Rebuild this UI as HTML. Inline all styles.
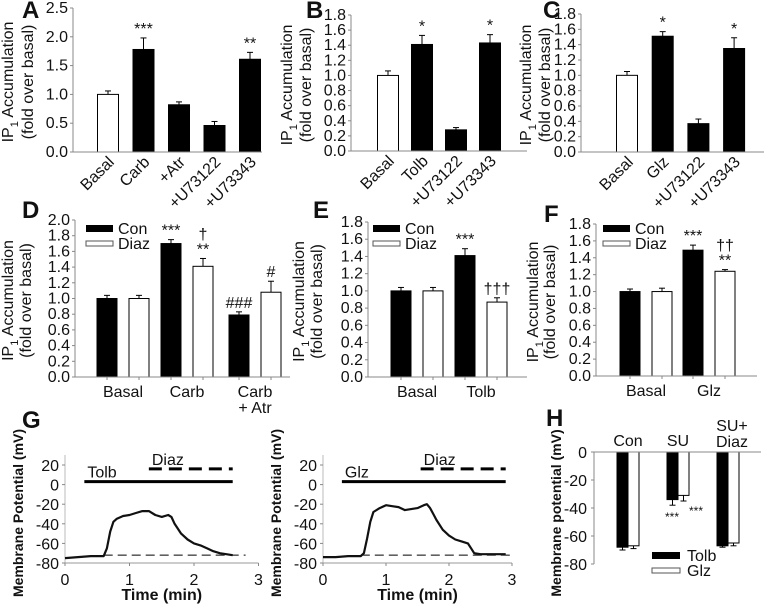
<!DOCTYPE html>
<html><head><meta charset="utf-8"><style>
body{margin:0;background:#fff}
svg{display:block;font-family:"Liberation Sans",Arial,sans-serif;font-size:16px}
.t{fill:#111}
.lab{font-size:24px;font-weight:bold;fill:#111}
.b{font-weight:bold}
</style></head><body>
<svg id="fig" width="768" height="607" viewBox="0 0 768 607" xmlns="http://www.w3.org/2000/svg"></svg>
<script>
// ---- data ----
const catsA=["Basal","Carb","+Atr","+U73122","+U73343"];
const valsA=[1.0,1.78,0.82,0.46,1.61];
const errA=[0.06,0.2,0.05,0.07,0.12];
const starsA=["","***","","","**"];
const catsB=["Basal","Tolb","+U73122","+U73343"];
const valsB=[1.0,1.41,0.28,1.43];
const errB=[0.06,0.12,0.03,0.11];
const starsB=["","*","","*"];
const catsC=["Basal","Glz","+U73122","+U73343"];
const valsC=[1.0,1.51,0.37,1.35];
const errC=[0.05,0.06,0.06,0.14];
const starsC=["","*","","*"];
const catsD=["Basal","Carb","Carb|+ Atr"];
const conD=[1.0,1.7,0.79], conErrD=[0.04,0.05,0.04], conAnnD=["","***","###"];
const diazD=[1.0,1.41,1.08], diazErrD=[0.04,0.1,0.14], diazAnnD=["","†|**","#"];
const catsE=["Basal","Tolb"];
const conE=[1.0,1.41], conErrE=[0.04,0.08], conAnnE=["","***"];
const diazE=[1.0,0.87], diazErrE=[0.04,0.05], diazAnnE=["","†††"];
const catsF=["Basal","Glz"];
const conF=[1.0,1.49], conErrF=[0.03,0.06], conAnnF=["","***"];
const diazF=[1.0,1.24], diazErrF=[0.04,0.02], diazAnnF=["","††|**"];
const timeTolb=[0,0.2,0.4,0.6,0.65,0.7,0.75,0.8,0.9,1.0,1.1,1.2,1.3,1.4,1.5,1.6,1.65,1.7,1.75,1.8,1.9,2.0,2.1,2.2,2.3,2.4,2.5,2.6];
const vmTolb=[-75,-74,-73,-73,-65,-48,-38,-35,-32,-31,-29,-27,-27,-31,-33,-31,-33,-40,-45,-50,-56,-60,-62,-65,-68,-70,-71,-72];
const timeGlz=[0,0.2,0.4,0.6,0.65,0.7,0.75,0.8,0.9,1.0,1.1,1.2,1.3,1.4,1.5,1.6,1.65,1.7,1.75,1.8,1.9,2.0,2.1,2.2,2.3,2.35,2.4,2.5,2.7,2.9];
const vmGlz=[-74,-74,-73,-73,-70,-55,-38,-28,-24,-21,-22,-23,-26,-25,-24,-21,-20,-24,-30,-36,-46,-52,-56,-58,-60,-65,-70,-71,-71,-71];
const catsH=["Con","SU","SU+|Diaz"];
const tolbH=[-68,-34,-67], tolbErrH=[2,4,1];
const glzH=[-67,-31,-65], glzErrH=[2,4,2];
// ---- helpers ----
const svg=document.getElementById('fig');
const NS='http://www.w3.org/2000/svg';
function mk(tag,attrs,parent){const e=document.createElementNS(NS,tag);for(const k in attrs)e.setAttribute(k,attrs[k]);(parent||svg).appendChild(e);return e;}
function txt(s,attrs,parent){const e=mk('text',attrs,parent);e.textContent=s;return e;}
function ytitle(g,x1,x2,cy){
  const t=txt('',{x:0,y:0,class:'t','text-anchor':'middle',transform:`translate(${x1},${cy}) rotate(-90)`,'font-size':'16'},g);
  
  const a=mk('tspan',{},t);a.textContent='IP';
  const s=mk('tspan',{dy:5,'font-size':'11'},t);s.textContent='1';
  const c=mk('tspan',{dy:-5},t);c.textContent=' Accumulation';
  const t2=txt('(fold over basal)',{x:0,y:0,class:'t','text-anchor':'middle',transform:`translate(${x2},${cy}) rotate(-90)`,'font-size':'16'},g);
  
}
function axisY(g,ax,y0,ytop,vmax,step,dec,lo){
  lo=lo||0;
  const sc=v=>y0-(v-lo)/(vmax-lo)*(y0-ytop);
  mk('line',{x1:ax,y1:sc(lo),x2:ax,y2:sc(vmax),stroke:'#888','stroke-width':1},g);
  for(let v=lo;v<=vmax+1e-9;v+=step){
    mk('line',{x1:ax-3,y1:sc(v),x2:ax,y2:sc(v),stroke:'#888'},g);
    const l=txt(v.toFixed(dec),{x:ax-5,y:sc(v)+5,class:'t','text-anchor':'end','font-size':'16'},g);
    
  }
  return sc;
}
function bar(g,cx,w,v,e,fill,sc,name,base){
  base=base===undefined?0:base;
  const top=Math.min(sc(v),sc(base)),h=Math.abs(sc(v)-sc(base));
  const r=mk('rect',{x:cx-w/2,y:top,width:w,height:h,fill:fill,stroke:'#000','stroke-width':1},g);
  
  const ye=sc(v+(v>=0?e:-e));
  mk('line',{x1:cx,y1:sc(v),x2:cx,y2:ye,stroke:'#000'},g);
  mk('line',{x1:cx-3,y1:ye,x2:cx+3,y2:ye,stroke:'#000'},g);
  return ye;
}
function ann(g,cx,y,s){
  const parts=s.split('|');
  parts.reverse().forEach((p,i)=>{const a=txt(p,{x:cx,y:y-4-i*15,'font-size':'16','text-anchor':'middle',fill:'#111'},g);
    });
}
function label(s,x,y){const l=txt(s,{x:x,y:y,class:'lab'});}
// ---- single-series panels A,B,C ----
function single(name,cats,vals,errs,stars,ax,axEnd,y0,ytop,vmax,step,c0,sp,fills,tx1,tx2){
  const g=mk('g',{});
  const sc=axisY(g,ax,y0,ytop,vmax,step,1);
  cats.forEach((c,i)=>{
    const cx=c0+i*sp;
    const ye=bar(g,cx,21,vals[i],errs[i],fills[i],sc,'bar-'+c.replace('+','').toLowerCase());
    if(stars[i])ann(g,cx,ye,stars[i]);
    const l=txt(c,{x:0,y:0,class:'t','text-anchor':'end',transform:`translate(${cx+7},${y0+11}) rotate(-45)`},g);
    
  });
  mk('line',{x1:ax,y1:y0,x2:axEnd,y2:y0,stroke:'#888'},g);
  ytitle(g,tx1,tx2,(y0+ytop)/2+2);
}
single('a',catsA,valsA,errA,starsA,73,262,152,8,2.5,0.5,108,35.5,['#fff','#000','#000','#000','#000'],13,33);
single('b',catsB,valsB,errB,starsB,351,527,151,15,1.8,0.2,388,34,['#fff','#000','#000','#000'],292,311);
single('c',catsC,valsC,errC,starsC,581,764,152,14,1.8,0.2,627,35.7,['#fff','#000','#000','#000'],531,550);
label('A',22,18);label('B',306,18);label('C',543,18);
// ---- grouped panels D,E,F ----
function grouped(name,cats,con,conE,conA,dz,dzE,dzA,ax,axEnd,y0,ytop,centers,off,tx1,tx2,lx,ly){
  const g=mk('g',{});
  const sc=axisY(g,ax,y0,ytop,name==='d'?2.0:1.8,0.2,1);
  cats.forEach((c,i)=>{
    const cx=centers[i];
    let ye=bar(g,cx-off,20,con[i],conE[i],'#000',sc,'bar-con-'+i);
    if(conA[i])ann(g,cx-off,ye,conA[i]);
    ye=bar(g,cx+off,20,dz[i],dzE[i],'#fff',sc,'bar-diaz-'+i);
    if(dzA[i])ann(g,cx+off,ye,dzA[i]);
    mk('line',{x1:cx-off,y1:y0,x2:cx-off,y2:y0+3,stroke:'#888'},g);
    mk('line',{x1:cx+off,y1:y0,x2:cx+off,y2:y0+3,stroke:'#888'},g);
    c.split('|').forEach((p,j)=>{const l=txt(p,{x:cx,y:y0+20+j*16,class:'t','text-anchor':'middle','font-size':'16'},g);
      });
  });
  mk('line',{x1:ax,y1:y0,x2:axEnd,y2:y0,stroke:'#888'},g);
  ytitle(g,tx1,tx2,(y0+ytop)/2+2);
  const lg=mk('g',{},g);
  mk('rect',{x:lx,y:ly-4,width:27,height:7,fill:'#000'},lg);
  mk('rect',{x:lx,y:ly+12,width:27,height:5,fill:'#fff',stroke:'#555'},lg);
  txt('Con',{x:lx+32,y:ly+5,class:'t'},lg);
  txt('Diaz',{x:lx+32,y:ly+20,class:'t'},lg);
}
grouped('d',catsD,conD,conErrD,conAnnD,diazD,diazErrD,diazAnnD,75,290,377,220,[123,187,255],16,13,31,86,229);
grouped('e',catsE,conE,conErrE,conAnnE,diazE,diazErrE,diazAnnE,368,527,377,222,[417,481],16,304,322,373,229);
grouped('f',catsF,conF,conErrF,conAnnF,diazF,diazErrF,diazAnnF,596,757,376,224,[646,709],16,538,555,603,229);
label('D',22,218);label('E',313,218);label('F',544,222);
// ---- G traces ----
function trace(name,times,vm,ax,ppm,drug,dStart,dEnd,tStart,tEnd){
  const g=mk('g',{});
  const y0=563,ytop=465;
  const sy=v=>y0-(v+80)/100*(y0-ytop);
  const sx=t=>ax+t*ppm;
  mk('line',{x1:ax,y1:y0,x2:ax,y2:ytop-10,stroke:'#bbb'},g);
  for(let v=-80;v<=20;v+=20){
    mk('line',{x1:ax-3,y1:sy(v),x2:ax,y2:sy(v),stroke:'#888'},g);
    txt(String(v),{x:ax-6,y:sy(v)+6,class:'t','text-anchor':'end','font-size':'16'},g);
  }
  mk('line',{x1:ax,y1:y0,x2:sx(3),y2:y0,stroke:'#999'},g);
  for(let t=0;t<=3;t++){
    mk('line',{x1:sx(t),y1:y0,x2:sx(t),y2:y0+3,stroke:'#888'},g);
    txt(String(t),{x:sx(t),y:y0+22,class:'t','text-anchor':'middle','font-size':'16'},g);
  }
  const xt=txt('Time (min)',{x:sx(1.5),y:600,class:'t b','text-anchor':'middle','font-size':'16'},g);
  
  const yt=txt('Membrane Potential (mV)',{x:0,y:0,class:'t b','text-anchor':'middle','font-size':'14',transform:`translate(${ax-42},${513}) rotate(-90)`},g);
  
  mk('line',{x1:sx(0.6),y1:sy(-72),x2:sx(tEnd+0.2>3?3:2.8),y2:sy(-72),stroke:'#000','stroke-dasharray':'9,5'},g);
  const drugLine=mk('line',{x1:sx(tStart),y1:sy(3),x2:sx(tEnd),y2:sy(3),stroke:'#000','stroke-width':3},g);
  
  txt(drug,{x:sx(tStart)+3,y:sy(3)-4,class:'t','font-size':'16'},g);
  const dz=mk('line',{x1:sx(dStart),y1:sy(16),x2:sx(dEnd),y2:sy(16),stroke:'#000','stroke-width':3,'stroke-dasharray':'13,7'},g);
  
  txt('Diaz',{x:sx(dStart)+3,y:sy(16)-4,class:'t','font-size':'16'},g);
  const pts=times.map((t,i)=>sx(t).toFixed(1)+','+sy(vm[i]).toFixed(1)).join(' ');
  const p=mk('polyline',{points:pts,fill:'none',stroke:'#111','stroke-width':2.2,'stroke-linejoin':'round'},g);
  
}
trace('tolb',timeTolb,vmTolb,65,64.5,'Tolb',1.3,2.6,0.3,2.6);
trace('glz',timeGlz,vmGlz,323,63,'Glz',1.55,2.9,0.3,2.9);
label('G',22,428);
// ---- H ----
(function(){
  const g=mk('g',{});
  const ax=594,y0=452,ybot=564;
  const sy=v=>y0+(-v)/80*(ybot-y0);
  mk('line',{x1:ax,y1:y0,x2:ax,y2:ybot,stroke:'#888'},g);
  for(let v=0;v>=-80;v-=20){
    mk('line',{x1:ax-3,y1:sy(v),x2:ax,y2:sy(v),stroke:'#888'},g);
    txt(String(v),{x:ax-7,y:sy(v)+6,class:'t','text-anchor':'end','font-size':'16'},g);
  }
  const centers=[628,678,728];
  catsH.forEach((c,i)=>{
    const cx=centers[i];
    bar(g,cx-5.5,11,tolbH[i],tolbErrH[i],'#000',sy,'bar-tolb-'+i);
    bar(g,cx+5.5,11,glzH[i],glzErrH[i],'#fff',sy,'bar-glz-'+i);
    const ps=c.split('|');
    ps.forEach((p,j)=>{const l=txt(p,{x:cx+(ps.length>1?4:0),y:(ps.length>1?431:446)+j*16,class:'t','text-anchor':'middle','font-size':'16'},g);
      });
  });
  mk('line',{x1:ax,y1:y0,x2:761,y2:y0,stroke:'#888'},g);
  txt('***',{x:689,y:515,'font-size':'12',fill:'#111'},g);
  txt('***',{x:665,y:521,'font-size':'12',fill:'#111'},g);
  const yt=txt('Membrane potential (mV)',{x:0,y:0,class:'t b','text-anchor':'middle','font-size':'14',transform:`translate(561,513) rotate(-90)`},g);
  
  const lg=mk('g',{},g);
  mk('rect',{x:652,y:552,width:28,height:7,fill:'#000'},lg);
  mk('rect',{x:652,y:568,width:28,height:5,fill:'#fff',stroke:'#555'},lg);
  txt('Tolb',{x:687,y:561,class:'t'},lg);
  txt('Glz',{x:687,y:576,class:'t'},lg);
})();
label('H',546,426);
</script>
</body></html>
